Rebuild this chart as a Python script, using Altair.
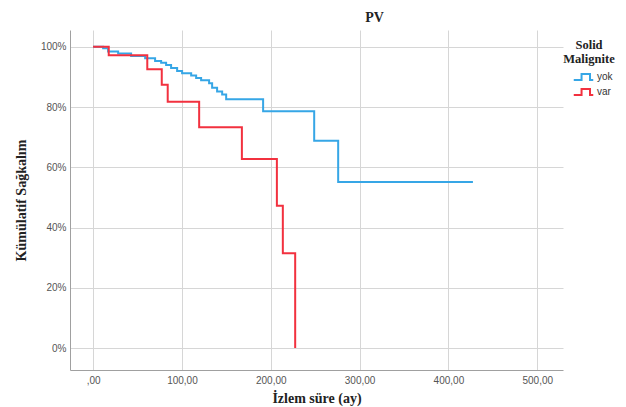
import altair as alt
import pandas as pd

# Kaplan-Meier step values
yok_time = [0, 11.3, 16.9, 28.2, 42.8, 58.6, 69.8, 76.6, 82.2, 87.8, 94.6, 100.2,
            110.4, 116.0, 121.6, 130.6, 134.0, 139.6, 145.3, 149.8, 191.4, 248.9,
            275.9, 427.6]
yok_surv = [100, 99.5, 98.5, 97.8, 97.0, 96.2, 95.3, 94.7, 94.0, 93.0, 92.0, 91.2,
            90.5, 89.7, 88.9, 87.9, 86.4, 85.2, 84.2, 82.6, 78.6, 68.8,
            55.1, 55.1]
var_time = [0, 17.6, 61.0, 77.3, 84.0, 119.4, 167.5, 206.9, 213.6, 227.5]
var_surv = [100, 97.2, 92.6, 87.4, 81.8, 73.3, 62.8, 47.2, 31.5, 0]

groups = ["yok", "var"]
colors = ["#36a6e6", "#f2313f"]
x_ticks = [0, 100, 200, 300, 400, 500]
y_ticks = [0, 20, 40, 60, 80, 100]

rows = []
for t, s in zip(yok_time, yok_surv):
    rows.append({"t": t, "s": s, "g": "yok", "o": 0})
for t, s in zip(var_time, var_surv):
    rows.append({"t": t, "s": s, "g": "var", "o": 1})
df = pd.DataFrame(rows)

serif = "Liberation Serif"
sans = "Liberation Sans"

icon = "M-1.5,0.45 L-0.3,0.45 L-0.3,-0.45 L1.0,-0.45 L1.0,0.45 L1.5,0.45"

chart = alt.Chart(df).mark_line(interpolate="step-after", strokeWidth=2).encode(
    x=alt.X("t:Q",
            scale=alt.Scale(domain=[-26, 529], nice=False, zero=False),
            axis=alt.Axis(values=x_ticks, title="İzlem süre (ay)",
                          labelExpr="datum.value == 0 ? ',00' : datum.value + ',00'",
                          ticks=False, labelPadding=5, titlePadding=6)),
    y=alt.Y("s:Q",
            scale=alt.Scale(domain=[-7.3, 105.6], nice=False, zero=False),
            axis=alt.Axis(values=y_ticks, title="Kümülatif Sağkalım",
                          labelExpr="datum.value + '%'",
                          ticks=False, labelPadding=4, titlePadding=12)),
    color=alt.Color("g:N",
                    scale=alt.Scale(domain=groups, range=colors),
                    legend=alt.Legend(title=["Solid", "Malignite"], orient="none",
                                      legendX=493, legendY=9,
                                      titleFont=serif, titleFontSize=12.5,
                                      titleLineHeight=14,
                                      titleFontWeight="bold", titleColor="#222",
                                      titleAlign="center", titleAnchor="middle",
                                      titleLimit=200, titlePadding=4,
                                      labelFont=sans, labelFontSize=10, labelColor="#333",
                                      symbolType=icon, symbolSize=169,
                                      symbolStrokeWidth=2, symbolFillColor="transparent",
                                      symbolOffset=10, labelOffset=6, rowPadding=0)),
    detail="g:N",
    order="o:Q",
).properties(
    width=493, height=340,
    title=alt.TitleParams("PV", font=serif, fontSize=14, fontWeight="bold",
                          color="#222", anchor="middle", dx=58, offset=5),
    autosize=alt.AutoSizeParams(type="none"),
    padding={"left": 62, "top": 22, "right": 55, "bottom": 37},
).configure_axis(
    grid=True, gridColor="#d6d6d6", gridWidth=1,
    domainColor="#a0a0a0", domainWidth=1,
    labelFont=sans, labelFontSize=10, labelColor="#555",
    titleFont=serif, titleFontSize=14, titleFontWeight="bold", titleColor="#222",
).configure_view(stroke=None)

chart.save("out.html", embed_options={"renderer": "svg", "actions": False})
